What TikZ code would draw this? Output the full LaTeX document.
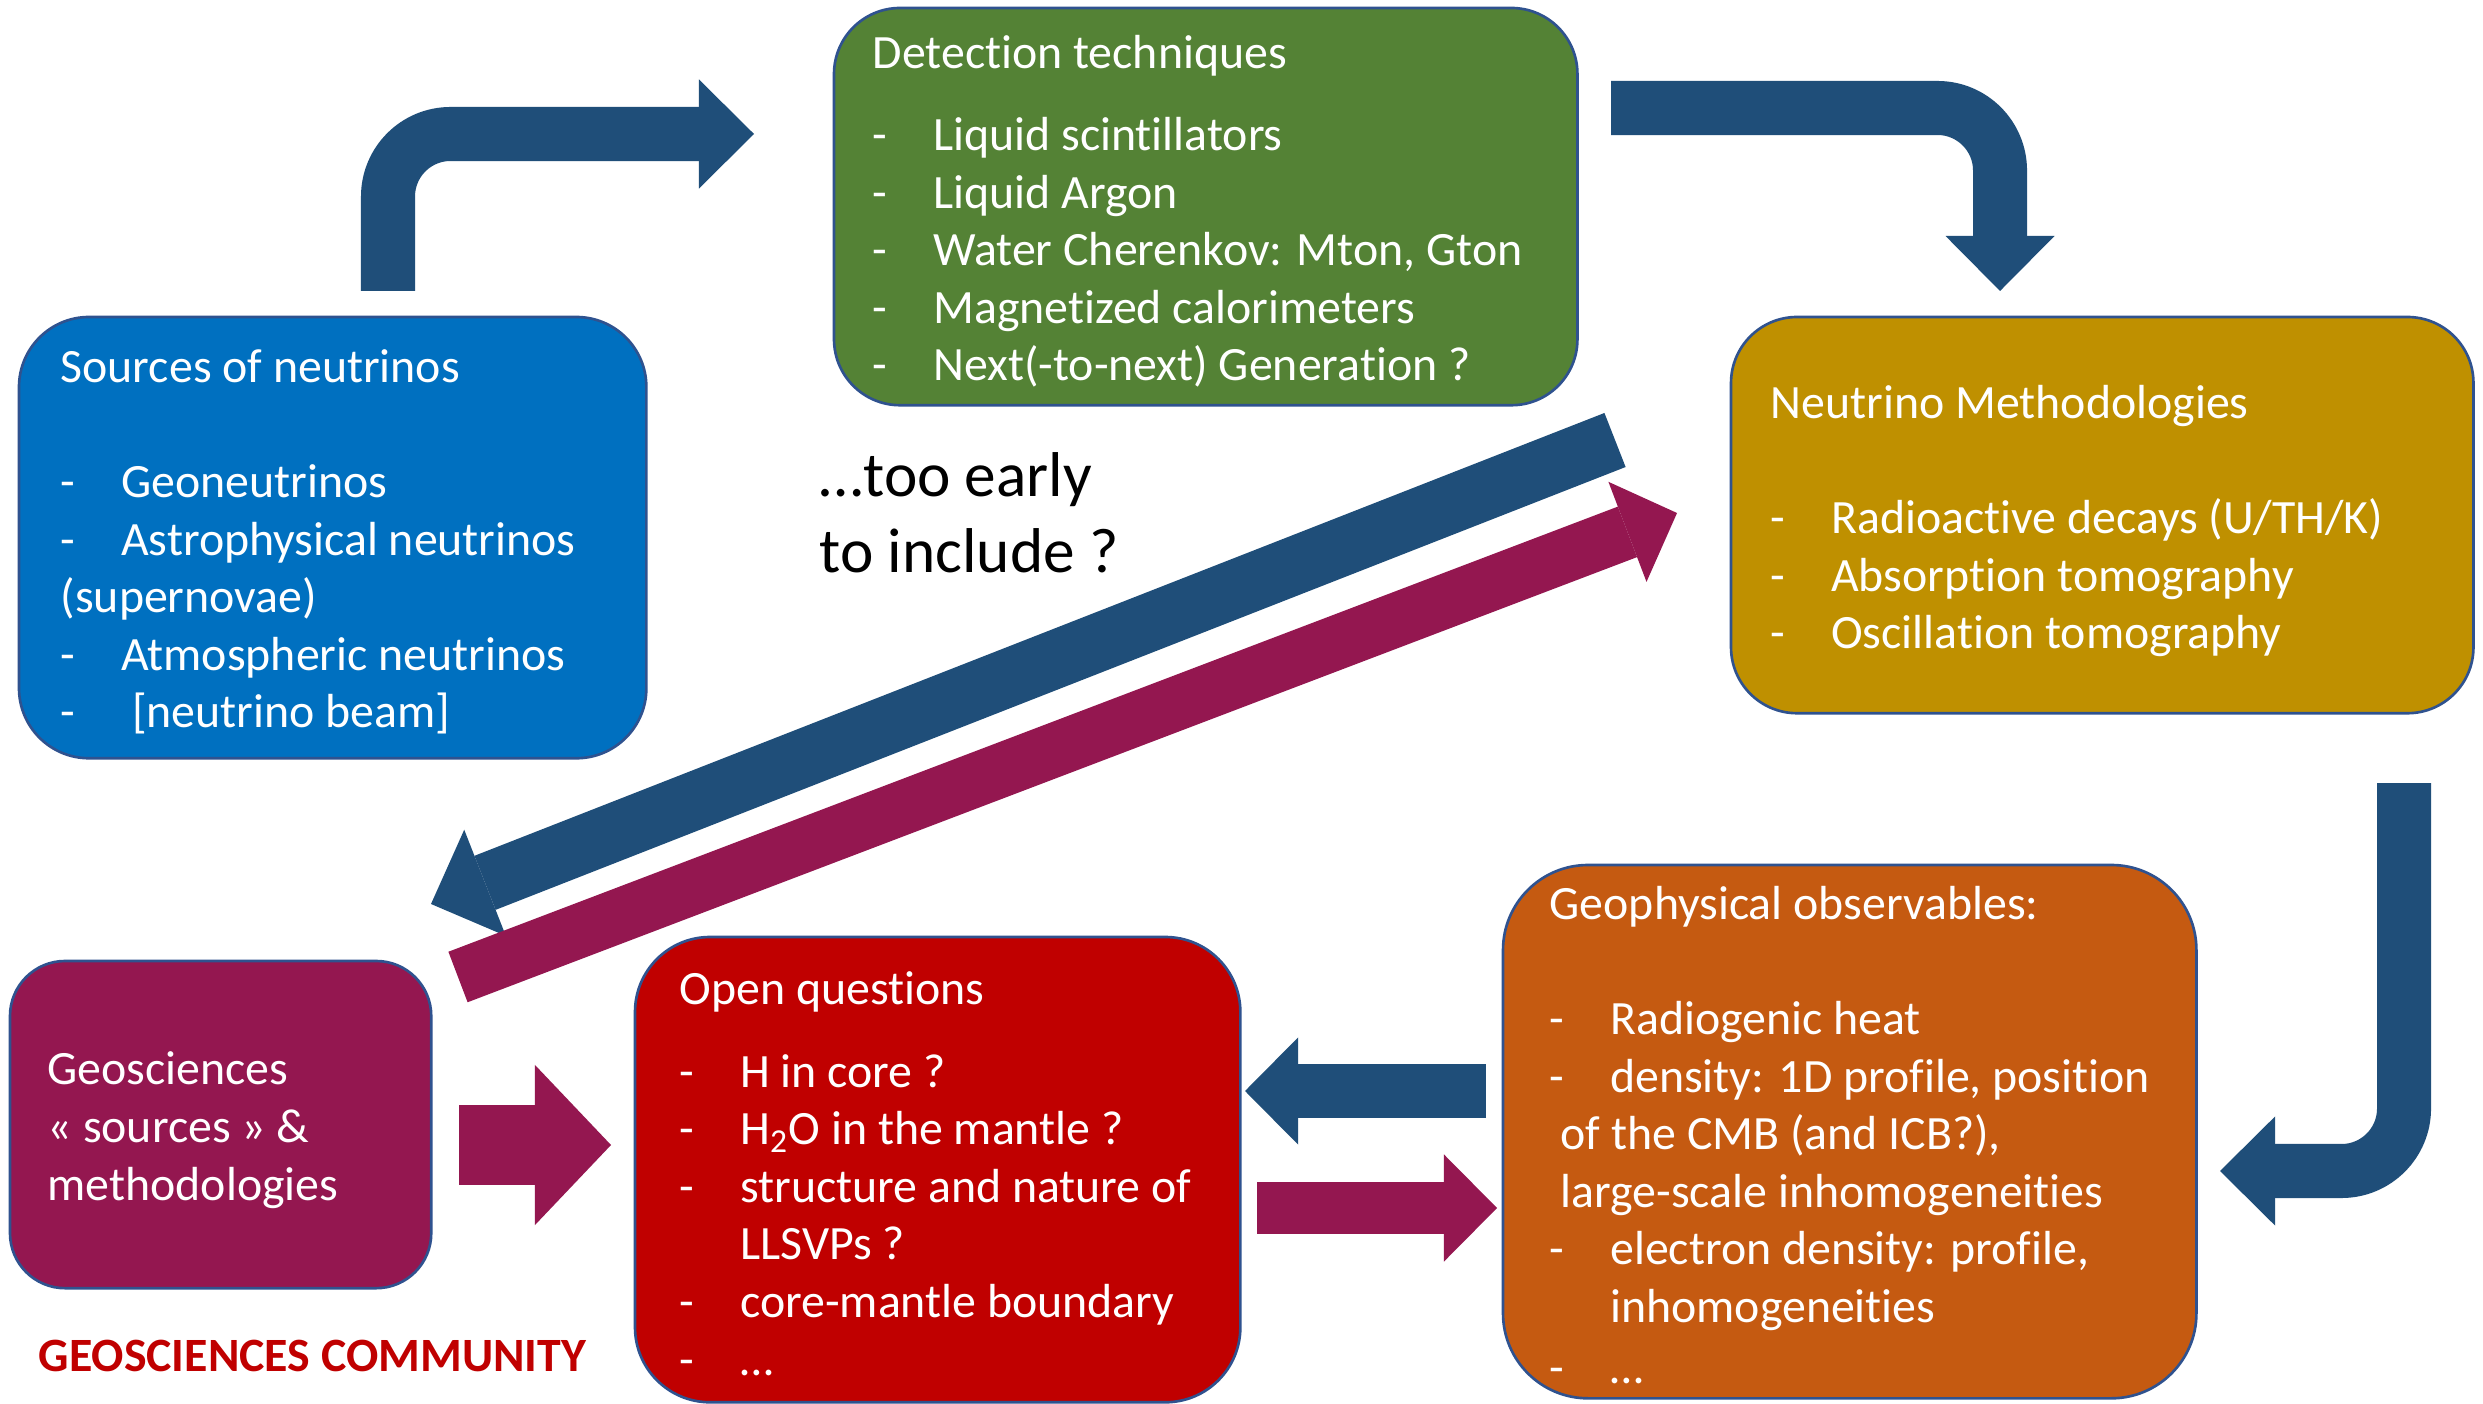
\documentclass[tikz,border=0pt]{standalone}
\usepackage{fontspec}
\setmainfont{Carlito}[Ligatures=NoCommon]
\usetikzlibrary{arrows.meta}

\definecolor{srcblue}{HTML}{0070C0}
\definecolor{detgreen}{HTML}{548235}
\definecolor{methgold}{HTML}{BF9000}
\definecolor{geopurple}{RGB}{148,23,80}
\definecolor{qred}{HTML}{C00000}
\definecolor{obsorange}{HTML}{C55A11}
\definecolor{arrowblue}{HTML}{1F4E79}
\definecolor{outl}{HTML}{2F528F}

\newcommand{\boxfont}{\fontsize{13.6pt}{16.36pt}\selectfont}
\newcommand{\itm}[1]{\makebox[0.605cm][l]{-}#1}
\newcommand{\ind}{\hspace*{0.605cm}}

\begin{document}
\begin{tikzpicture}[x=0.01cm, y=-0.01cm,
  box/.style={draw=outl, line width=0.75pt, rounded corners=#1, anchor=north west, inner sep=0pt, outer sep=0pt},
  txt/.style={anchor=base west, inner sep=0pt, align=left, text=white, font=\boxfont},
  fat/.style n args={3}{line width=#1, -{Triangle[length=#2, width=#3, line width=0pt]}}]
\path[use as bounding box, fill=white] (0,0) rectangle (2483,1404);

% Boxes
\node[box=0.7cm, fill=srcblue, minimum width=6.27cm, minimum height=4.41cm] (src) at (19,317) {};
\node[box=0.66cm, fill=detgreen, minimum width=7.43cm, minimum height=3.97cm] (det) at (834,8) {};
\node[box=0.66cm, fill=methgold, minimum width=7.42cm, minimum height=3.96cm] (meth) at (1731,317) {};
\node[box=0.55cm, fill=geopurple, minimum width=4.21cm, minimum height=3.27cm] (geo) at (10,961) {};
\node[box=0.75cm, fill=qred, minimum width=6.05cm, minimum height=4.65cm] (oq) at (635,937) {};
\node[box=0.85cm, fill=obsorange, minimum width=6.93cm, minimum height=5.33cm] (obs) at (1503,865) {};

% Texts (placed by the baseline of their last line)
\node[txt] (srct) at (60,728) {Sources of neutrinos\\[16.36pt]\itm{Geoneutrinos}\\\itm{Astrophysical neutrinos}\\(supernovae)\\\itm{Atmospheric neutrinos}\\\itm{\ [neutrino beam]}};
\node[txt] (dett) at (872,381) {Detection techniques\\[0.25cm]\itm{Liquid scintillators}\\\itm{Liquid Argon}\\\itm{Water Cherenkov: Mton, Gton}\\\itm{Magnetized calorimeters}\\\itm{Next(-to-next) Generation ?}};
\node[txt] (metht) at (1770,649) {Neutrino Methodologies\\[16.36pt]\itm{Radioactive decays (U/TH/K)}\\\itm{Absorption tomography}\\\itm{Oscillation tomography}};
\node[txt] (geot) at (47,1200) {Geosciences\\« sources » \&\\methodologies};
\node[txt] (oqt) at (679,1375) {Open questions\\[0.25cm]\itm{H in core ?}\\\itm{H\textsubscript{2}O in the mantle ?}\\\itm{structure and nature of}\\\ind LLSVPs ?\\\itm{core-mantle boundary}\\\itm{…}};
\node[txt] (obst) at (1549,1383) {Geophysical observables:\\[16.36pt]\itm{Radiogenic heat}\\\itm{density: 1D profile, position}\\\hspace*{0.11cm}of the CMB (and ICB?),\\\hspace*{0.11cm}large-scale inhomogeneities\\\itm{electron density: profile,}\\\ind inhomogeneities\\[0.03cm]\itm{…}};
\node[txt, text=black, font=\fontsize{18pt}{21.8pt}\selectfont] (early) at (819,573) {…too early\\to include ?};
\node[txt, text=qred, font=\boxfont\bfseries] (comm) at (38,1371) {GEOSCIENCES COMMUNITY};

% Arrow ends
\coordinate (a1s) at (388,291);
\coordinate (a1e) at (754,134);
\coordinate (a2s) at (1611,108);
\coordinate (a2e) at (2000,291);
\coordinate (a3s) at (2404,783);
\coordinate (a3e) at (2220,1171);
\coordinate (a4s) at (1486,1091);
\coordinate (a4e) at (1245,1091);
\coordinate (a5s) at (1257,1208);
\coordinate (a5e) at (1497,1208);
\coordinate (a6s) at (459,1145);
\coordinate (a6e) at (611,1145);
\coordinate (a7s) at (1615,440);
\coordinate (a7e) at (431,904);
\coordinate (a8s) at (458,977);
\coordinate (a8e) at (1677,513);

% Arrows
\draw[fat={0.54cm}{0.55cm}{1.09cm}, arrowblue, rounded corners=0.625cm] (a1s) |- (a1e);
\draw[fat={0.54cm}{0.55cm}{1.09cm}, arrowblue, rounded corners=0.625cm] (a2s) -| (a2e);
\draw[fat={0.54cm}{0.55cm}{1.09cm}, arrowblue, rounded corners=0.625cm] (a3s) |- (a3e);
\draw[fat={0.53cm}{0.53cm}{1.07cm}, arrowblue] (a4s) -- (a4e);
\draw[fat={0.52cm}{0.53cm}{1.07cm}, geopurple] (a5s) -- (a5e);
\draw[fat={0.79cm}{0.76cm}{1.60cm}, geopurple] (a6s) -- (a6e);
\draw[fat={0.58cm}{0.58cm}{1.14cm}, arrowblue] (a7s) -- (a7e);
\draw[fat={0.54cm}{0.53cm}{1.07cm}, geopurple] (a8s) -- (a8e);
\end{tikzpicture}
\end{document}
